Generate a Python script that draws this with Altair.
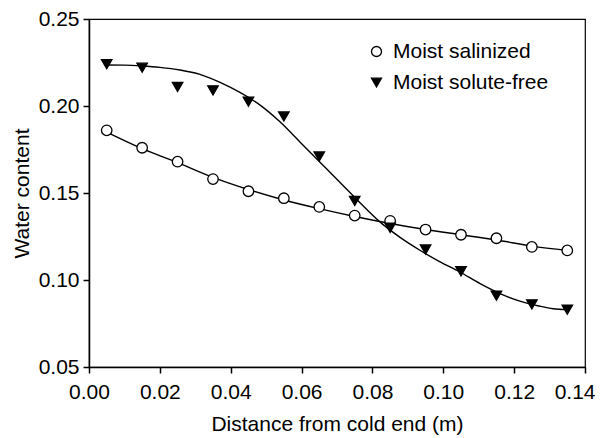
import altair as alt
import pandas as pd

# measured points
x_pts = [0.005, 0.015, 0.025, 0.035, 0.045, 0.055, 0.065, 0.075, 0.085, 0.095, 0.105, 0.115, 0.125, 0.135]
salinized = [0.186, 0.176, 0.168, 0.158, 0.151, 0.147, 0.142, 0.137, 0.134, 0.129, 0.126, 0.124, 0.119, 0.117]
solute_free = [0.224, 0.222, 0.211, 0.209, 0.2025, 0.194, 0.171, 0.1455, 0.130, 0.1175, 0.105, 0.091, 0.086, 0.083]

# fitted curves
curve_sal_x = x_pts
curve_sal = [0.185, 0.1755, 0.1675, 0.159, 0.152, 0.146, 0.141, 0.1365, 0.1325, 0.129, 0.126, 0.123, 0.1195, 0.117]
curve_free_x = [0.005, 0.010, 0.015, 0.020, 0.0257, 0.0313, 0.037, 0.0426, 0.0483, 0.0539, 0.0596, 0.0652,
                0.0708, 0.0765, 0.0821, 0.0878, 0.0934, 0.0991, 0.1047, 0.1104, 0.116, 0.1216, 0.1273, 0.131, 0.135]
curve_free = [0.2236, 0.2235, 0.2230, 0.2222, 0.2207, 0.2182, 0.2136, 0.2078, 0.2005, 0.1909, 0.1792, 0.1677,
              0.1562, 0.1444, 0.1334, 0.1245, 0.1171, 0.1104, 0.1046, 0.0979, 0.0922, 0.0879, 0.0849, 0.0835, 0.0830]

series = ["Moist salinized", "Moist solute-free"]
x_ticks = [0, 0.02, 0.04, 0.06, 0.08, 0.10, 0.12, 0.14]
y_ticks = [0.05, 0.10, 0.15, 0.20, 0.25]

pts = pd.DataFrame(
    {"x": x_pts * 2, "y": salinized + solute_free, "s": [series[0]] * len(x_pts) + [series[1]] * len(x_pts)}
)
crv = pd.DataFrame(
    {"x": curve_sal_x + curve_free_x, "y": curve_sal + curve_free,
     "s": [series[0]] * len(curve_sal_x) + [series[1]] * len(curve_free_x)}
)

FONT = "Liberation Sans"

xscale = alt.Scale(domain=[0, 0.14], nice=False, zero=False)
yscale = alt.Scale(domain=[0.05, 0.25], nice=False, zero=False)

last_test = "datum.value >= 0.139"
xaxis = alt.Axis(title="Distance from cold end (m)", values=x_ticks, labelFlush=False,
                 labelAlign={"condition": {"test": last_test, "value": "right"}, "value": "center"},
                 labelOffset={"condition": {"test": last_test, "value": 10}, "value": 0},
                 format=".2f", grid=False, tickSize=6, labelPadding=8, titlePadding=11)
yaxis = alt.Axis(title="Water content", values=y_ticks, labelFlush=False,
                 format=".2f", grid=False, tickSize=6, labelPadding=4, titlePadding=6)

legend_kw = dict(title=None, orient="none", legendX=277, legendY=22)

lines = alt.Chart(crv).mark_line(color="black", strokeWidth=1.4, interpolate="monotone").encode(
    x=alt.X("x:Q", scale=xscale, axis=xaxis),
    y=alt.Y("y:Q", scale=yscale, axis=yaxis),
    detail="s:N",
)

points = alt.Chart(pts).mark_point(filled=True, stroke="black", strokeWidth=1.3, opacity=1).encode(
    x=alt.X("x:Q", scale=xscale),
    y=alt.Y("y:Q", scale=yscale),
    shape=alt.Shape("s:N", scale=alt.Scale(domain=series, range=["circle", "triangle-down"]),
                    legend=alt.Legend(**legend_kw)),
    fill=alt.Fill("s:N", scale=alt.Scale(domain=series, range=["white", "black"]),
                  legend=alt.Legend(**legend_kw)),
    stroke=alt.Stroke("s:N", scale=alt.Scale(domain=series, range=["black", "black"]),
                      legend=alt.Legend(**legend_kw)),
    size=alt.value(110),
)

chart = alt.layer(lines, points).properties(
    width=496, height=348,
    autosize=alt.AutoSizeParams(type="none"),
    padding={"left": 81, "top": 11, "right": 12, "bottom": 70},
    background="white",
).configure_view(stroke="black", strokeWidth=1.2).configure_axis(
    domainColor="black", domainWidth=1.5, tickColor="black", tickWidth=1.5,
    labelFont=FONT, titleFont=FONT, labelFontSize=21, titleFontSize=21,
    labelColor="black", titleColor="black", titleFontWeight="normal",
).configure_legend(
    labelFont=FONT, labelFontSize=21, labelColor="black", labelLimit=300,
    symbolSize=100, symbolStrokeWidth=1.3, symbolStrokeColor="black",
    rowPadding=9, labelOffset=6, padding=0,
)

chart.save("out.html", embed_options={"renderer": "svg", "actions": False})
